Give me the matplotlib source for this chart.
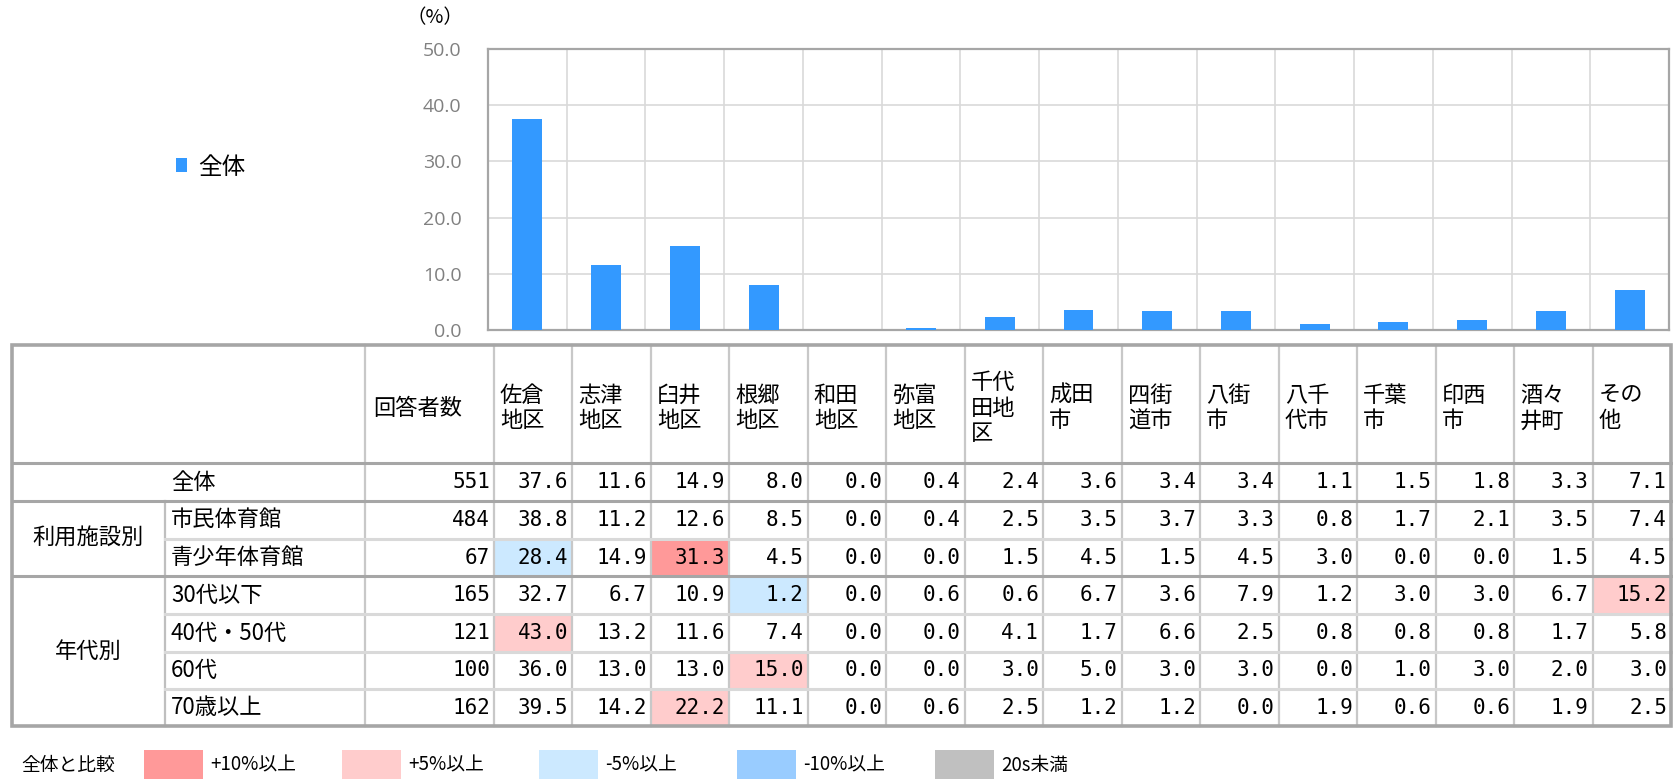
import matplotlib
matplotlib.use("Agg")
import matplotlib.pyplot as plt
from matplotlib.patches import Rectangle

plt.rcParams['font.family'] = ['Noto Sans CJK JP', 'DejaVu Sans']

# --- data ---
areas = ['佐倉\n地区', '志津\n地区', '臼井\n地区', '根郷\n地区', '和田\n地区', '弥富\n地区',
         '千代\n田地\n区', '成田\n市', '四街\n道市', '八街\n市', '八千\n代市', '千葉\n市',
         '印西\n市', '酒々\n井町', 'その\n他']
total = [37.6, 11.6, 14.9, 8.0, 0.0, 0.4, 2.4, 3.6, 3.4, 3.4, 1.1, 1.5, 1.8, 3.3, 7.1]

groups = ['', '利用施設別', '年代別']
group_rows = [(0, 0), (1, 2), (3, 6)]
row_labels = ['全体', '市民体育館', '青少年体育館', '30代以下', '40代・50代', '60代', '70歳以上']
n_resp = [551, 484, 67, 165, 121, 100, 162]
values = [
    [37.6, 11.6, 14.9, 8.0, 0.0, 0.4, 2.4, 3.6, 3.4, 3.4, 1.1, 1.5, 1.8, 3.3, 7.1],
    [38.8, 11.2, 12.6, 8.5, 0.0, 0.4, 2.5, 3.5, 3.7, 3.3, 0.8, 1.7, 2.1, 3.5, 7.4],
    [28.4, 14.9, 31.3, 4.5, 0.0, 0.0, 1.5, 4.5, 1.5, 4.5, 3.0, 0.0, 0.0, 1.5, 4.5],
    [32.7, 6.7, 10.9, 1.2, 0.0, 0.6, 0.6, 6.7, 3.6, 7.9, 1.2, 3.0, 3.0, 6.7, 15.2],
    [43.0, 13.2, 11.6, 7.4, 0.0, 0.0, 4.1, 1.7, 6.6, 2.5, 0.8, 0.8, 0.8, 1.7, 5.8],
    [36.0, 13.0, 13.0, 15.0, 0.0, 0.0, 3.0, 5.0, 3.0, 3.0, 0.0, 1.0, 3.0, 2.0, 3.0],
    [39.5, 14.2, 22.2, 11.1, 0.0, 0.6, 2.5, 1.2, 1.2, 0.0, 1.9, 0.6, 0.6, 1.9, 2.5],
]
# highlight flags: 2 = +10%, 1 = +5%, -1 = -5%, -2 = -10%
marks = {(2, 0): -1, (2, 2): 2, (3, 3): -1, (3, 14): 1, (4, 0): 1, (5, 3): 1, (6, 2): 1}
mark_colors = {2: '#FF9999', 1: '#FFCCCC', -1: '#CCE9FF', -2: '#99CCFF'}
legend_items = [('+10%以上', '#FF9999'), ('+5%以上', '#FFCCCC'), ('-5%以上', '#CCE9FF'),
                ('-10%以上', '#99CCFF'), ('20s未満', '#C0C0C0')]

W, H = 1674, 779
fig = plt.figure(figsize=(W / 100, H / 100), dpi=100)

# --- bar chart ---
ax = fig.add_axes([488 / W, 1 - 330 / H, 1181 / W, 281 / H])
x = list(range(len(total)))
ax.bar(x, total, width=0.38, color='#3399FF', zorder=3, label='全体')
ax.set_xlim(-0.5, len(total) - 0.5)
ax.set_ylim(0, 50)
ax.set_yticks([0, 10, 20, 30, 40, 50])
ax.set_yticklabels([f'{v:.1f}' for v in [0, 10, 20, 30, 40, 50]],
                   fontsize=14, color='#808080', family='Open Sans')
ax.set_xticks([i + 0.5 for i in x[:-1]])
ax.set_xticklabels([])
ax.tick_params(length=0, pad=19)
ax.grid(True, color='#D9D9D9', lw=1.2, zorder=0)
for s in ax.spines.values():
    s.set_color('#A6A6A6')
    s.set_linewidth(1.6)
ax.text(-0.045, 1.11, '（%）', transform=ax.transAxes, fontsize=14, ha='center', va='center')
ax.legend(loc='center', bbox_to_anchor=(-0.235, 0.58), frameon=False, fontsize=17,
          handlelength=0.5, handleheight=0.5, handletextpad=0.45)

# --- table (pixel coordinates) ---
t = fig.add_axes([0, 0, 1, 1])
t.set_xlim(0, W)
t.set_ylim(H, 0)
t.axis('off')

col_x = [12, 165, 365, 494] + [494 + (1671 - 494) * (i + 1) / 15 for i in range(15)]
row_y = [345, 463, 501, 539, 576, 614, 652, 689, 726]
fs = 16
num_font = 'DejaVu Sans Mono'
nfs = 15

# cell highlights
for (r, c), k in marks.items():
    t.add_patch(Rectangle((col_x[c + 3], row_y[r + 1]), col_x[c + 4] - col_x[c + 3],
                          row_y[r + 2] - row_y[r + 1], color=mark_colors[k], lw=0, zorder=1))

# vertical lines
for c in range(2, len(col_x) - 1):
    t.plot([col_x[c]] * 2, [row_y[0], row_y[-1]], color='#C8C8C8', lw=1.6, zorder=2)
t.plot([col_x[1]] * 2, [row_y[2], row_y[-1]], color='#BFBFBF', lw=1.6, zorder=2)
# inner row lines
for r in [3, 5, 6, 7]:
    t.plot([col_x[1], col_x[-1]], [row_y[r]] * 2, color='#D9D9D9', lw=2.2, zorder=2)
# group lines
for r in [1, 2, 4]:
    t.plot([col_x[0], col_x[-1]], [row_y[r]] * 2, color='#A6A6A6', lw=2.2, zorder=3)
t.add_patch(Rectangle((col_x[0], row_y[0]), col_x[-1] - col_x[0], row_y[-1] - row_y[0],
                      fill=False, ec='#A6A6A6', lw=2.6, zorder=4))

# header
hy = 408
t.text(col_x[2] + 8, hy, '回答者数', fontsize=fs, ha='left', va='center')
for i, a in enumerate(areas):
    t.text(col_x[i + 3] + 6, hy, a, fontsize=fs, ha='left', va='center', linespacing=1.15)

# group labels
for g, (r0, r1) in zip(groups, group_rows):
    if g:
        t.text((col_x[0] + col_x[1]) / 2, (row_y[r0 + 1] + row_y[r1 + 2]) / 2, g,
               fontsize=fs, ha='center', va='center')

# rows
for r, lab in enumerate(row_labels):
    cy = (row_y[r + 1] + row_y[r + 2]) / 2
    t.text(col_x[1] + 6, cy, lab, fontsize=fs, ha='left', va='center')
    t.text(col_x[3] - 4, cy, str(n_resp[r]), fontsize=nfs, family=num_font,
           ha='right', va='center')
    for c, v in enumerate(values[r]):
        t.text(col_x[c + 4] - 4, cy, f'{v:.1f}', fontsize=nfs, family=num_font,
               ha='right', va='center')

# bottom legend
ly = 765
t.text(21, ly, '全体と比較', fontsize=13.5, ha='left', va='center')
sw_x = [144, 342, 539, 737, 935]
for (lab, colr), sx in zip(legend_items, sw_x):
    t.add_patch(Rectangle((sx, 750), 59, 29, color=colr, lw=0))
    t.text(sx + 66, ly, lab, fontsize=13.5, ha='left', va='center')

fig.savefig('out.png', dpi=100)
